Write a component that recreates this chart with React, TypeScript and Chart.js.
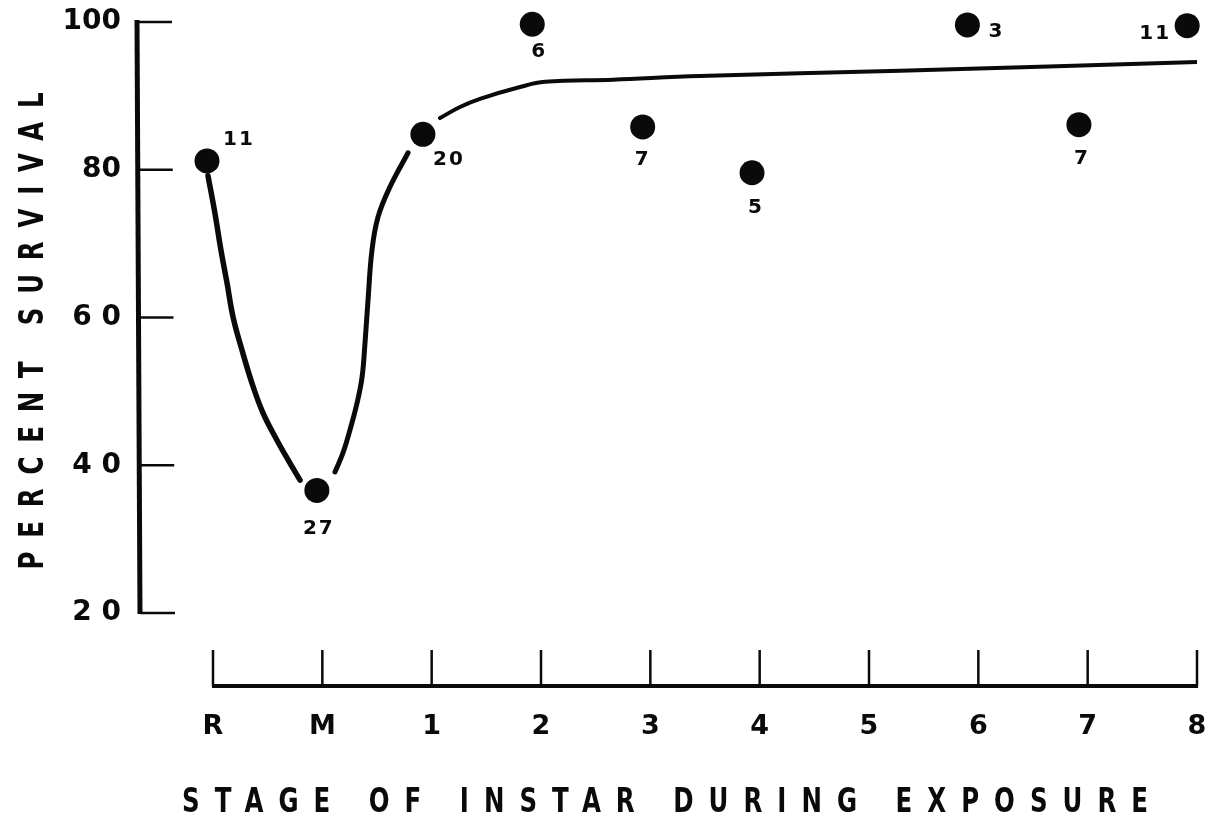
import React, { useEffect, useRef } from "react";
import { Chart, registerables } from "chart.js";

Chart.register(...registerables);

// ---- Data ----
const stageLabels = ["R", "M", "1", "2", "3", "4", "5", "6", "7", "8"];
const stagePositions = [0, 1, 2, 3, 4, 5, 6, 7, 8, 9];

const yTickValues = [20, 40, 60, 80, 100];
const yTickLabels = ["2 0", "4 0", "6 0", "80", "100"];

// observed survival points (x on stage scale, R = 0)
const obsStage = [-0.055, 0.95, 1.92, 2.92, 3.93, 4.93, 6.9, 7.92, 8.91];
const obsSurvival = [81.2, 36.6, 84.8, 99.7, 85.8, 79.6, 99.6, 86.1, 99.5];
const obsN = ["11", "27", "20", "6", "7", "5", "3", "7", "11"];

// hand-drawn fitted curve, three pieces
const curveAStage = [-0.046, 0.018, 0.073, 0.128, 0.183, 0.265, 0.357, 0.457, 0.585, 0.704, 0.796];
const curveASurv = [79.2, 74.1, 69.1, 64.7, 60.1, 55.6, 51.1, 47.1, 43.4, 40.3, 38.0];

const curveBStage = [1.116, 1.189, 1.253, 1.317, 1.363, 1.39, 1.418, 1.454, 1.509, 1.619, 1.784];
const curveBSurv = [39.1, 41.7, 44.8, 48.4, 51.9, 56.5, 62.4, 69.1, 73.6, 77.7, 82.3];

const curveCStage = [2.076, 2.259, 2.442, 2.808, 3.037, 3.659, 4.454, 6.284, 9.0];
const curveCSurv = [87.0, 88.5, 89.6, 91.2, 91.9, 92.2, 92.7, 93.4, 94.6];

const yTitle = "PERCENT SURVIVAL";
const xTitle = "STAGE OF INSTAR DURING EXPOSURE";

// ---- Styling / annotation placement ----
const nLabelOffsets: [number, number][] = [
  [31, -21], [1, 38], [25, 25], [6, 28], [-1, 33], [3, 35], [28, 7], [2, 34], [-33, 8],
];
const INK = "#0a0a0a";
const TICK_FONT = "DejaVu Sans";

function drawSpaced(
  ctx: CanvasRenderingContext2D,
  text: string,
  x: number,
  y: number,
  span: number,
  angle: number,
  font: string,
  sx: number
) {
  ctx.save();
  ctx.translate(x, y);
  ctx.rotate(angle);
  ctx.scale(sx, 1);
  ctx.font = font;
  ctx.fillStyle = INK;
  ctx.textBaseline = "alphabetic";
  ctx.textAlign = "left";
  (ctx as any).letterSpacing = "0px";
  const w0 = ctx.measureText(text).width;
  const ls = (span / sx - w0) / (text.length - 1);
  (ctx as any).letterSpacing = ls + "px";
  ctx.fillText(text, -span / sx / 2, 0);
  ctx.restore();
}

const zeroPadding = (s: any) => {
  s.paddingTop = 0;
  s.paddingBottom = 0;
  s.paddingLeft = 0;
  s.paddingRight = 0;
};

const axesPlugin = {
  id: "handAxes",
  beforeDatasetsDraw(chart: any) {
    const ctx: CanvasRenderingContext2D = chart.ctx;
    const xs = chart.scales.x;
    const ys = chart.scales.y;
    const area = chart.chartArea;
    ctx.save();
    ctx.strokeStyle = INK;
    ctx.lineCap = "butt";
    // y axis spine
    const yTop = ys.getPixelForValue(100);
    const yBot = ys.getPixelForValue(20);
    ctx.lineWidth = 5;
    ctx.beginPath();
    ctx.moveTo(area.left - 1, yTop - 2);
    ctx.lineTo(area.left + 2, yBot + 1);
    ctx.stroke();
    // y ticks (pointing right)
    ctx.lineWidth = 2.5;
    yTickValues.forEach((v, i) => {
      const py = ys.getPixelForValue(v);
      const lx = area.left + 2 - (i / (yTickValues.length - 1)) * 3;
      ctx.beginPath();
      ctx.moveTo(lx, py);
      ctx.lineTo(lx + 35, py);
      ctx.stroke();
    });
    // x axis baseline
    const xb = area.bottom - 1;
    const x0 = xs.getPixelForValue(stagePositions[0]);
    const x1 = xs.getPixelForValue(stagePositions[stagePositions.length - 1]);
    ctx.lineWidth = 4;
    ctx.beginPath();
    ctx.moveTo(x0 - 1, xb);
    ctx.lineTo(x1 + 1, xb);
    ctx.stroke();
    // x ticks (pointing up)
    ctx.lineWidth = 2.5;
    stagePositions.forEach((v) => {
      const px = xs.getPixelForValue(v);
      ctx.beginPath();
      ctx.moveTo(px, xb);
      ctx.lineTo(px, xb - 36);
      ctx.stroke();
    });
    ctx.restore();
  },
  afterDatasetsDraw(chart: any) {
    const ctx: CanvasRenderingContext2D = chart.ctx;
    const meta = chart.getDatasetMeta(3);
    ctx.save();
    ctx.fillStyle = INK;
    ctx.font = `bold 20px "${TICK_FONT}"`;
    ctx.textAlign = "center";
    ctx.textBaseline = "middle";
    (ctx as any).letterSpacing = "2px";
    meta.data.forEach((pt: any, i: number) => {
      const [dx, dy] = nLabelOffsets[i];
      ctx.fillText(obsN[i], pt.x + dx + 1, pt.y + dy);
    });
    ctx.restore();
    // axis titles
    drawSpaced(ctx, yTitle, 43, 331, 477, -Math.PI / 2, `bold 34px "${TICK_FONT}"`, 0.72);
    drawSpaced(ctx, xTitle, 665, 812, 966, 0, `bold 34px "${TICK_FONT}"`, 0.72);
  },
};

export default function App() {
  const ref = useRef<HTMLCanvasElement | null>(null);

  useEffect(() => {
    if (!ref.current) return;
    const curveDs = (xs: number[], ys: number[], w: number) => ({
      data: xs.map((x, i) => ({ x, y: ys[i] })),
      showLine: true,
      borderColor: INK,
      borderWidth: w,
      borderCapStyle: "round" as const,
      borderJoinStyle: "round" as const,
      pointRadius: 0,
      tension: 0.4,
      fill: false,
    });
    const chart = new Chart(ref.current, {
      type: "scatter",
      data: {
        datasets: [
          curveDs(curveAStage, curveASurv, 5.5),
          curveDs(curveBStage, curveBSurv, 5),
          curveDs(curveCStage, curveCSurv, 4),
          {
            data: obsStage.map((x, i) => ({ x, y: obsSurvival[i] })),
            showLine: false,
            pointRadius: 12.5,
            pointBackgroundColor: INK,
            pointBorderWidth: 0,
            clip: false as any,
          } as any,
        ],
      },
      options: {
        responsive: false,
        animation: false,
        layout: { padding: { top: 22, right: 13, left: 0, bottom: 0 } },
        plugins: { legend: { display: false }, tooltip: { enabled: false } },
        scales: {
          x: {
            type: "linear",
            min: -0.686,
            max: 9,
            afterFit: (s: any) => {
              s.height = 128;
              zeroPadding(s);
            },
            afterBuildTicks: (s: any) => {
              s.ticks = stagePositions.map((v) => ({ value: v }));
            },
            ticks: {
              callback: (_v: any, i: number) => stageLabels[i],
              font: { family: TICK_FONT, weight: "bold", size: 27 },
              color: INK,
              padding: 24,
              maxRotation: 0,
              autoSkip: false,
            },
            grid: { display: false, drawTicks: false },
            border: { display: false },
          },
          y: {
            min: 10,
            max: 100,
            afterFit: (s: any) => {
              s.width = 138;
              zeroPadding(s);
            },
            afterBuildTicks: (s: any) => {
              s.ticks = yTickValues.map((v) => ({ value: v }));
            },
            ticks: {
              callback: (_v: any, i: number) => yTickLabels[i],
              font: { family: TICK_FONT, weight: "bold", size: 28 },
              color: INK,
              padding: 17,
              autoSkip: false,
            },
            grid: { display: false, drawTicks: false },
            border: { display: false },
          },
        },
      },
      plugins: [axesPlugin],
    });
    return () => chart.destroy();
  }, []);

  return (
    <div style={{ position: "fixed", left: 0, top: 0, width: 1210, height: 815, background: "#fff" }}>
      <canvas ref={ref} width={1210} height={815} style={{ display: "block" }} />
    </div>
  );
}
